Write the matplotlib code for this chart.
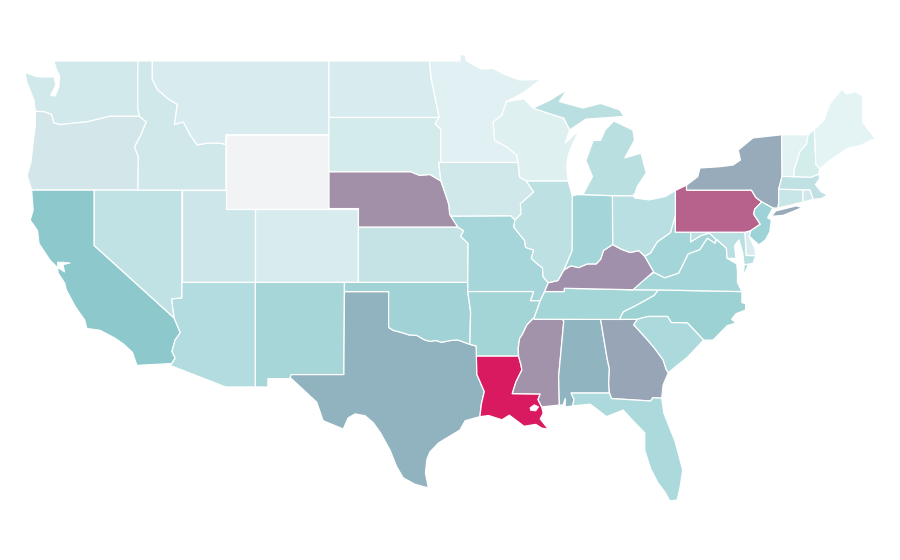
import matplotlib
matplotlib.use("Agg")
import matplotlib.pyplot as plt

# state outlines, (lon, lat), rough tracing
RED_RIVER = [(-100, 34.56), (-99.7, 34.4), (-99.2, 34.3), (-98.6, 34.15), (-98.1, 34.13), (-97.6, 33.9), (-97.2, 33.8), (-96.8, 33.85), (-96.4, 33.75), (-95.8, 33.85), (-95.3, 33.88), (-94.48, 33.64)]
MISS_LOW = [(-90.1, 35.1), (-90.6, 34.7), (-90.9, 34.2), (-91.1, 33.95), (-91.2, 33.4), (-91.17, 33.0), (-91.0, 32.5), (-90.95, 32.25), (-91.35, 31.6), (-91.6, 30.97)]
MISS_MID = [(-91.42, 40.38), (-91.5, 40.0), (-90.75, 39.25), (-90.7, 38.9), (-90.15, 38.75), (-90.3, 38.3), (-89.9, 38.0), (-89.55, 37.8), (-89.5, 37.3), (-89.15, 36.98)]
OHIO_RIVER = [(-89.15, 36.98), (-88.5, 37.1), (-88.1, 37.67), (-87.6, 37.9), (-87.1, 37.8), (-86.5, 38.0), (-85.9, 38.0), (-85.6, 38.25), (-85.4, 38.73), (-84.78, 39.05), (-84.2, 38.8), (-83.6, 38.62), (-83.0, 38.72), (-82.6, 38.42)]
MO_RIVER = [(-97.9, 42.8), (-97.2, 42.85), (-96.45, 42.5), (-96.1, 41.7), (-95.9, 41.2), (-95.85, 40.7), (-95.3, 40.0)]
SNAKE = [(-116.92, 46.0), (-116.46, 45.7), (-116.85, 44.95), (-117.26, 44.35), (-117.0, 43.8)]
BITTERROOT = [(-116.05, 49.0), (-116.05, 48.0), (-115.7, 47.45), (-114.95, 46.93), (-114.35, 46.65), (-114.55, 45.56), (-113.95, 45.7), (-113.45, 44.95), (-113.0, 44.45), (-112.3, 44.55), (-111.5, 44.55), (-111.05, 44.48)]
COLORADO_R = [(-114.57, 35.07), (-114.15, 34.27), (-114.5, 33.88), (-114.72, 33.25), (-114.5, 32.9), (-114.73, 32.6)]
SAVANNAH = [(-83.35, 34.7), (-82.6, 34.05), (-82.0, 33.5), (-81.35, 32.8), (-81.15, 32.3), (-81.0, 32.1)]
APPALACH = [(-81.97, 37.54), (-81.25, 37.25), (-80.3, 37.5), (-79.65, 38.55), (-78.87, 38.77), (-78.35, 39.4), (-77.83, 39.13)]
POTOMAC = [(-77.0, 38.3), (-77.05, 38.85), (-77.7, 39.32)]
NC_SC = [(-83.1, 35.0), (-82.4, 35.15), (-81.05, 35.15), (-80.8, 34.82), (-79.7, 34.8), (-78.6, 33.87)]
TN_NC = [(-81.68, 36.59), (-81.95, 36.3), (-82.6, 36.0), (-83.3, 35.7), (-84.05, 35.4), (-84.32, 34.99)]
WA = [(-124.7, 48.38), (-123.9, 48.15), (-123.2, 48.13), (-122.75, 48.15), (-122.6, 47.7), (-122.95, 47.15), (-122.65, 47.1), (-122.4, 47.6), (-122.35, 48.2), (-122.55, 48.5), (-122.75, 49.0), (-117.03, 49.0), (-117.04, 46.42), (-116.92, 46.0), (-118.98, 46.0), (-119.3, 45.93), (-120.5, 45.7), (-121.2, 45.65), (-122.3, 45.55), (-122.75, 45.65), (-122.9, 46.1), (-123.4, 46.25), (-124.0, 46.27), (-124.1, 46.9), (-124.6, 47.9)]
OR = [(-124.0, 46.27), (-123.4, 46.25), (-122.9, 46.1), (-122.75, 45.65), (-122.3, 45.55), (-121.2, 45.65), (-120.5, 45.7), (-119.3, 45.93), (-118.98, 46.0)] + SNAKE + [(-117.03, 42.0), (-124.25, 42.0), (-124.56, 42.8), (-124.3, 43.5), (-124.1, 44.9), (-124.0, 45.5)]
CA = [(-124.25, 42.0), (-120.0, 42.0), (-120.0, 39.0)] + COLORADO_R + [(-117.1, 32.5), (-117.4, 33.2), (-118.0, 33.65), (-118.6, 33.98), (-119.6, 34.4), (-120.5, 34.5), (-120.65, 34.96), (-121.3, 35.7), (-121.9, 36.6), (-122.0, 36.95), (-122.45, 37.5), (-122.5, 37.8), (-123.0, 38.2), (-123.75, 39.1), (-123.85, 39.8), (-124.35, 40.38), (-124.15, 40.9)]
NV = [(-120.0, 42.0), (-114.04, 42.0), (-114.04, 36.15), (-114.74, 36.1), (-114.57, 35.07), (-120.0, 39.0)]
ID = [(-117.03, 49.0)] + BITTERROOT + [(-111.05, 42.0), (-117.03, 42.0), (-117.0, 43.8), (-117.26, 44.35), (-116.85, 44.95), (-116.46, 45.7), (-116.92, 46.0), (-117.04, 46.42)]
MT = BITTERROOT + [(-111.05, 45.0), (-104.05, 45.0), (-104.05, 49.0)]
WY = [(-111.05, 45.0), (-104.05, 45.0), (-104.05, 41.0), (-111.05, 41.0)]
UT = [(-114.04, 42.0), (-111.05, 42.0), (-111.05, 41.0), (-109.05, 41.0), (-109.05, 37.0), (-114.04, 37.0)]
CO = [(-109.05, 41.0), (-102.05, 41.0), (-102.05, 37.0), (-109.05, 37.0)]
AZ = [(-114.04, 37.0), (-109.05, 37.0), (-109.05, 31.33), (-111.07, 31.33), (-114.85, 32.5)] + COLORADO_R[::-1] + [(-114.74, 36.1), (-114.04, 36.15)]
NM = [(-109.05, 37.0), (-103.0, 37.0), (-103.04, 32.0), (-106.62, 32.0), (-106.53, 31.78), (-108.2, 31.78), (-108.2, 31.33), (-109.05, 31.33)]
TX = [(-103.0, 36.5), (-100.0, 36.5)] + RED_RIVER + [(-94.04, 33.55), (-94.0, 32.0), (-93.5, 31.08), (-93.7, 30.4), (-93.8, 29.72), (-94.8, 29.5), (-95.15, 29.0), (-96.6, 28.3), (-97.2, 27.8), (-97.4, 27.4), (-97.5, 26.67), (-97.3, 25.86), (-98.2, 26.05), (-99.0, 26.4), (-99.45, 27.0), (-99.9, 27.9), (-100.55, 28.84), (-101.05, 29.4), (-101.6, 29.77), (-102.28, 29.87), (-102.75, 29.65), (-103.08, 29.05), (-104.45, 29.5), (-104.88, 30.5), (-106.7, 31.85), (-106.62, 32.0), (-103.04, 32.0)]
OK = [(-103.0, 37.0), (-94.62, 37.0), (-94.62, 36.5), (-94.43, 35.4)] + RED_RIVER[::-1] + [(-100.0, 36.5), (-103.0, 36.5)]
KS = [(-102.05, 40.0), (-95.3, 40.0), (-94.9, 39.8), (-95.1, 39.5), (-94.6, 39.1), (-94.62, 37.0), (-102.05, 37.0)]
NE = [(-104.05, 43.0), (-98.5, 43.0)] + MO_RIVER + [(-102.05, 40.0), (-102.05, 41.0), (-104.05, 41.0)]
SD = [(-104.05, 45.94), (-96.56, 45.94), (-96.85, 45.6), (-96.45, 45.3), (-96.45, 43.5), (-96.6, 43.5), (-96.45, 42.5), (-97.2, 42.85), (-97.9, 42.8), (-98.5, 43.0), (-104.05, 43.0)]
ND = [(-104.05, 49.0), (-97.23, 49.0), (-97.1, 48.0), (-96.56, 45.94), (-104.05, 45.94)]
MN = [(-97.23, 49.0), (-95.15, 49.0), (-95.15, 49.38), (-94.8, 49.3), (-94.7, 49.0), (-93.7, 48.56), (-92.9, 48.6), (-92.2, 48.3), (-91.1, 47.97), (-89.65, 48.0), (-90.8, 47.3), (-92.0, 46.8), (-92.3, 46.07), (-92.9, 45.7), (-92.8, 44.7), (-91.9, 44.3), (-91.3, 43.9), (-91.2, 43.5), (-96.45, 43.5), (-96.45, 45.3), (-96.85, 45.6), (-96.56, 45.94), (-97.1, 48.0)]
IA = [(-96.6, 43.5), (-91.2, 43.5), (-91.1, 42.7), (-90.65, 42.5), (-90.15, 41.9), (-91.05, 41.25), (-91.0, 40.7), (-91.42, 40.38), (-91.7, 40.6), (-95.77, 40.58), (-95.85, 40.7), (-95.9, 41.2), (-96.1, 41.7), (-96.45, 42.5)]
MO = [(-95.77, 40.58), (-91.7, 40.6)] + MISS_MID + [(-89.4, 36.5), (-89.7, 36.0), (-90.37, 36.0), (-90.15, 36.5), (-94.62, 36.5), (-94.62, 37.0), (-94.6, 39.1), (-95.1, 39.5), (-94.9, 39.8), (-95.3, 40.0)]
AR = [(-94.62, 36.5), (-90.15, 36.5), (-90.37, 36.0), (-89.7, 36.0)] + MISS_LOW[:6] + [(-94.04, 33.0), (-94.04, 33.55), (-94.48, 33.64), (-94.43, 35.4)]
LA = [(-94.04, 33.0)] + MISS_LOW[5:] + [(-89.7, 30.95), (-89.85, 30.65), (-89.6, 30.25), (-89.5, 29.9), (-89.7, 29.6), (-89.15, 29.04), (-89.6, 29.1), (-90.0, 29.3), (-90.8, 29.2), (-91.3, 29.5), (-91.8, 29.8), (-92.3, 29.55), (-93.2, 29.78), (-93.8, 29.72), (-93.7, 30.4), (-93.5, 31.08), (-94.0, 32.0)]
MS = [(-90.1, 35.0), (-88.2, 35.0), (-88.1, 34.9), (-88.45, 31.9), (-88.4, 30.35), (-89.6, 30.25), (-89.85, 30.65), (-89.7, 30.95)] + MISS_LOW[::-1]
AL = [(-88.2, 35.0), (-85.6, 35.0), (-85.15, 32.85), (-85.0, 32.3), (-85.05, 31.55), (-85.0, 31.0), (-87.6, 31.0), (-87.4, 30.65), (-87.5, 30.3), (-88.0, 30.25), (-88.0, 30.7), (-88.15, 30.35), (-88.4, 30.35), (-88.45, 31.9), (-88.1, 34.9)]
GA = [(-85.6, 35.0), (-83.1, 35.0)] + SAVANNAH + [(-81.35, 31.44), (-81.45, 30.72), (-82.05, 30.75), (-82.2, 30.57), (-84.86, 30.7), (-85.0, 31.0), (-85.05, 31.55), (-85.0, 32.3), (-85.15, 32.85)]
FL = [(-87.6, 31.0), (-85.0, 31.0), (-84.86, 30.7), (-82.2, 30.57), (-82.05, 30.75), (-81.45, 30.72), (-81.3, 29.9), (-80.55, 28.4), (-80.02, 26.83), (-80.2, 25.9), (-80.4, 25.2), (-80.9, 25.15), (-81.2, 25.6), (-81.7, 26.13), (-82.2, 26.9), (-82.6, 27.9), (-82.6, 28.84), (-83.4, 29.5), (-84.07, 30.08), (-85.2, 29.72), (-86.3, 30.4), (-87.5, 30.3), (-87.4, 30.65)]
TN = [(-90.1, 35.0), (-90.1, 35.1), (-89.7, 36.0), (-89.4, 36.5), (-88.07, 36.5), (-88.07, 36.68), (-83.68, 36.6)] + TN_NC
NC = TN_NC + NC_SC + [(-77.96, 33.87), (-77.0, 34.65), (-76.4, 34.8), (-76.7, 35.0), (-76.4, 35.3), (-75.75, 35.5), (-75.75, 35.85), (-76.0, 35.9), (-76.0, 36.5)]
SC = [(-83.35, 34.7)] + NC_SC + [(-79.75, 32.9), (-80.4, 32.5)] + SAVANNAH[::-1]
VA = [(-83.68, 36.6), (-81.68, 36.59), (-76.0, 36.5), (-76.3, 37.0), (-76.3, 37.6), (-76.35, 38.0)] + POTOMAC + [(-77.83, 39.13)] + APPALACH[::-1]
VA_SHORE = [(-75.9, 37.3), (-75.6, 37.9), (-75.25, 38.03), (-75.85, 37.95)]
KY = [(-89.4, 36.5)] + OHIO_RIVER + [(-82.0, 37.58), (-83.4, 36.6), (-88.07, 36.68), (-88.07, 36.5)]
WV = [(-82.6, 38.42), (-82.2, 38.6), (-81.75, 39.2), (-80.85, 39.7), (-80.52, 40.64), (-80.52, 39.72), (-79.48, 39.72), (-79.48, 39.2), (-78.75, 39.55), (-78.2, 39.67), (-77.75, 39.32)] + APPALACH[::-1]
MD = [(-79.48, 39.72), (-75.79, 39.72), (-75.7, 38.46), (-75.05, 38.45), (-75.25, 38.03), (-75.85, 37.95), (-75.95, 38.6), (-76.2, 39.3), (-76.5, 39.0), (-76.4, 38.3)] + POTOMAC + [(-77.75, 39.32), (-78.2, 39.67), (-78.75, 39.55), (-79.48, 39.2)]
DE = [(-75.79, 39.72), (-75.4, 39.8), (-75.5, 39.5), (-75.1, 38.8), (-75.05, 38.45), (-75.7, 38.46)]
PA = [(-80.52, 41.98), (-79.76, 42.27), (-79.76, 42.0), (-75.35, 42.0), (-75.05, 41.6), (-74.65, 41.36), (-75.13, 40.97), (-75.2, 40.7), (-74.75, 40.15), (-75.4, 39.8), (-75.79, 39.72), (-80.52, 39.72)]
NY = [(-79.76, 42.27), (-79.76, 42.0), (-75.35, 42.0), (-75.05, 41.6), (-74.65, 41.36), (-73.9, 41.03), (-73.55, 41.03), (-73.5, 41.3), (-73.5, 42.05), (-73.27, 42.75), (-73.3, 45.0), (-75.25, 44.83), (-76.25, 44.17), (-76.1, 43.63), (-76.6, 43.36), (-77.5, 43.27), (-78.85, 43.2), (-79.0, 42.73)]
NY_LI = [(-74.0, 40.58), (-73.7, 40.87), (-72.3, 41.15), (-71.9, 41.05), (-73.2, 40.63)]
NJ = [(-74.65, 41.36), (-73.9, 41.03), (-74.25, 40.5), (-74.0, 40.38), (-74.1, 39.75), (-74.4, 39.3), (-74.85, 39.03), (-75.5, 39.5), (-75.4, 39.8), (-74.75, 40.15), (-75.2, 40.7), (-75.13, 40.97)]
CT = [(-73.5, 42.05), (-71.85, 42.02), (-71.85, 41.35), (-73.55, 41.03), (-73.5, 41.3)]
RI = [(-71.85, 42.02), (-71.38, 42.02), (-71.15, 41.5), (-71.85, 41.35)]
MA = [(-73.5, 42.05), (-73.27, 42.75), (-71.3, 42.7), (-70.8, 42.87), (-70.7, 42.65), (-71.0, 42.3), (-70.6, 41.9), (-70.2, 41.75), (-70.55, 41.55), (-71.15, 41.5), (-71.38, 42.02), (-71.85, 42.02)]
VT = [(-73.3, 45.0), (-71.5, 45.0), (-71.6, 44.5), (-72.05, 44.1), (-72.45, 43.1), (-72.46, 42.73), (-73.27, 42.75)]
NH = [(-71.5, 45.0), (-71.08, 45.3), (-70.98, 43.4), (-70.7, 43.15), (-70.8, 42.87), (-71.3, 42.7), (-72.46, 42.73), (-72.45, 43.1), (-72.05, 44.1), (-71.6, 44.5)]
ME = [(-71.08, 45.3), (-70.4, 45.8), (-70.25, 46.2), (-70.0, 46.7), (-69.23, 47.46), (-68.9, 47.2), (-68.3, 47.35), (-67.8, 47.1), (-67.8, 45.7), (-67.45, 45.3), (-66.95, 44.8), (-68.0, 44.4), (-68.8, 44.28), (-70.0, 43.63), (-70.7, 43.15), (-70.98, 43.4)]
OH = [(-84.8, 41.7), (-83.4, 41.7), (-83.26, 41.57), (-82.3, 41.47), (-81.2, 41.65), (-80.52, 41.98), (-80.52, 40.64), (-80.85, 39.7), (-81.75, 39.2), (-82.2, 38.6), (-82.6, 38.42), (-83.0, 38.72), (-83.6, 38.62), (-84.2, 38.8), (-84.78, 39.05)]
IN = [(-87.53, 41.7), (-87.2, 41.75), (-86.8, 41.76), (-84.8, 41.7), (-84.78, 39.05), (-85.4, 38.73), (-85.6, 38.25), (-85.9, 38.0), (-86.5, 38.0), (-87.1, 37.8), (-87.6, 37.9), (-88.1, 37.67), (-87.55, 38.7), (-87.53, 39.35)]
IL = [(-90.65, 42.5), (-87.8, 42.5), (-87.53, 41.7), (-87.53, 39.35), (-87.55, 38.7), (-88.1, 37.67), (-88.5, 37.1)] + MISS_MID[::-1] + [(-91.0, 40.7), (-91.05, 41.25), (-90.15, 41.9)]
WI = [(-92.0, 46.8), (-90.8, 46.95), (-90.2, 46.45), (-89.1, 46.15), (-88.1, 45.9), (-87.7, 45.26), (-88.0, 44.55), (-87.05, 45.27), (-87.5, 44.5), (-87.8, 43.9), (-87.9, 43.27), (-87.8, 42.5), (-90.65, 42.5), (-91.1, 42.7), (-91.2, 43.5), (-91.3, 43.9), (-91.9, 44.3), (-92.8, 44.7), (-92.9, 45.7), (-92.3, 46.07)]
MI = [(-86.8, 41.76), (-84.8, 41.7), (-83.4, 41.7), (-83.25, 41.85), (-83.1, 42.2), (-82.5, 42.93), (-82.85, 44.0), (-83.95, 43.75), (-83.3, 44.7), (-83.4, 45.25), (-84.7, 45.75), (-85.3, 45.25), (-85.6, 44.7), (-86.1, 44.7), (-86.6, 43.6), (-86.15, 42.73)]
MI_UP = [(-90.2, 46.45), (-89.1, 46.85), (-88.5, 47.15), (-87.9, 47.43), (-88.4, 46.8), (-86.8, 46.45), (-85.6, 46.7), (-84.3, 46.35), (-84.0, 46.0), (-84.75, 45.95), (-85.7, 45.9), (-86.6, 45.85), (-87.7, 45.26), (-88.1, 45.9), (-89.1, 46.15)]
MI_ROYALE = [(-89.2, 47.85), (-88.5, 48.15), (-88.9, 47.9)]
PONTCHARTRAIN = [(-90.4, 30.2), (-90.1, 30.37), (-89.8, 30.25), (-90.0, 30.03), (-90.35, 30.05)]
SF_BAY = [(-122.5, 38.1), (-122.1, 38.1), (-121.6, 38.05), (-122.1, 37.95), (-122.0, 37.55), (-122.3, 37.7), (-122.5, 37.8)]

states = [WA, OR, CA, NV, ID, MT, WY, UT, CO, AZ, NM, TX, OK, KS, NE, SD, ND, MN, IA, MO, AR, LA, MS, AL, GA, FL, TN, NC, SC, VA, VA_SHORE, KY, WV, MD, DE, PA, NY, NY_LI, NJ, CT, RI, MA, VT, NH, ME, OH, IN, IL, WI, MI, MI_UP, MI_ROYALE]
state_colors = ["#d1e9eb", "#d3e7ea", "#8cc8cc", "#c1e2e4", "#d1e8ea", "#d8ecef", "#f2f3f5", "#cde6e9", "#d8ecef", "#b2dcdf", "#a6d6d8", "#91b3c0", "#a0d2d6", "#c5e3e4", "#a190a8", "#d3ebeb", "#d8ecef", "#e1f0f3", "#d0e8ea", "#a6d6d9", "#a3d4d6", "#d91a60", "#a292aa", "#91b5c0", "#98a5b6", "#acd9dc", "#a4d5d7", "#9cd2d4", "#acd9dc", "#a4d5d8", "#a4d5d8", "#a190ab", "#a4d5d8", "#b8dfe1", "#d8ecef", "#b6628c", "#98abba", "#98abba", "#9dd3d6", "#c8e6e7", "#d0e8ea", "#bfe1e4", "#e3f2f3", "#d3ecec", "#e4f3f4", "#b9dfe2", "#a4d5d8", "#bde0e2", "#dff0f1", "#b9dfe1", "#b9dfe1", "#b9dfe1"]
water = [PONTCHARTRAIN, SF_BAY]

fig = plt.figure(figsize=(9, 5.6), dpi=100)
ax = fig.add_axes([0, 0, 1, 1])

for outline, color in zip(states, state_colors):
    lons, lats = zip(*outline)
    ax.fill(lons, lats, facecolor=color, edgecolor="white", linewidth=0.9, joinstyle="round")

for outline in water:
    lons, lats = zip(*outline)
    ax.fill(lons, lats, facecolor="white", edgecolor="white", linewidth=0.5)

# plain lon/lat scaling, about 14.7 px per degree lon and 18.45 px per degree lat
ax.set_xlim(-126.4, -65.26)
ax.set_ylim(21.95, 52.306)
ax.axis("off")

fig.savefig("out.png", dpi=100, facecolor="white")
